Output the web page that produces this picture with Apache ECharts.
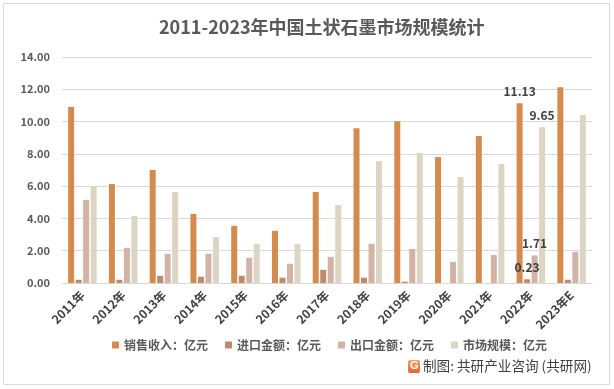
<!DOCTYPE html>
<html><head><meta charset="utf-8">
<script src="https://cdn.jsdelivr.net/npm/echarts@6/dist/echarts.min.js"></script>
<style>html,body{margin:0;padding:0;background:#fff}#c{width:614px;height:389px}</style>
</head><body><div id="c"></div>
<script>
const categories = ['2011年','2012年','2013年','2014年','2015年','2016年','2017年','2018年','2019年','2020年','2021年','2022年','2023年E'];
const seriesNames = ['销售收入：亿元','进口金额：亿元','出口金额：亿元','市场规模：亿元'];
const sales  = [10.90, 6.13, 7.00, 4.28, 3.54, 3.23, 5.64, 9.59, 10.02, 7.80, 9.10, 11.13, 12.13];
const imports = [0.20, 0.20, 0.45, 0.39, 0.45, 0.33, 0.82, 0.33, 0.08, 0.00, 0.00, 0.23, 0.20];
const exports_ = [5.15, 2.18, 1.81, 1.81, 1.56, 1.19, 1.62, 2.43, 2.11, 1.31, 1.74, 1.71, 1.93];
const market = [5.97, 4.16, 5.64, 2.84, 2.43, 2.43, 4.83, 7.55, 8.05, 6.56, 7.37, 9.65, 10.40];
const labeledIndex = 11;
const colors = ['#D68B4E','#BE8C6A','#D3B3A6','#DDD5C3'];
const font = '"Microsoft YaHei","Noto Sans CJK SC","Noto Sans",sans-serif';

function mk(name, vals, color){
  return {
    name, type:'bar', barWidth:6, barGap:'25%',
    itemStyle:{color},
    data: vals.map((v,i)=> i===labeledIndex ? {value:v, label:{show:true, position:'top', distance:6, formatter:p=>p.value.toFixed(2), color:'#404040', fontSize:12, fontWeight:'bold', fontFamily:font}} : v)
  };
}
const chart = echarts.init(document.getElementById('c'), null, {renderer:'canvas'});
chart.setOption({
  animation:false,
  textStyle:{fontFamily:font},
  title:{text:'2011-2023年中国土状石墨市场规模统计', left:154, top:13,
    textStyle:{fontSize:18, fontWeight:'bold', color:'#595959', fontFamily:font}},
  grid:{left:62, right:22, top:57, bottom:106, containLabel:false},
  legend:{top:334, left:107, itemWidth:7, itemHeight:7, itemGap:17, icon:'rect',
    textStyle:{fontSize:12, fontWeight:'bold', color:'#595959', fontFamily:font}, data:seriesNames},
  xAxis:{type:'category', data:categories,
    axisLine:{lineStyle:{color:'#D9D9D9'}}, axisTick:{show:false},
    axisLabel:{rotate:45, fontSize:12, fontWeight:'bold', color:'#404040', margin:10, interval:0}},
  yAxis:{type:'value', min:0, max:14, interval:2,
    axisLabel:{formatter:v=>v.toFixed(2), fontSize:11, fontWeight:'bold', color:'#595959', margin:12},
    splitLine:{lineStyle:{color:'#D9D9D9'}}, axisLine:{show:false}, axisTick:{show:false}},
  series:[mk(seriesNames[0],sales,colors[0]), mk(seriesNames[1],imports,colors[1]), mk(seriesNames[2],exports_,colors[2]), mk(seriesNames[3],market,colors[3])],
  graphic:[
    {type:'rect', shape:{x:3.5,y:3.5,width:606,height:381}, style:{fill:null, stroke:'#D9D9D9', lineWidth:1}, silent:true},
    {type:'rect', shape:{x:408,y:360,width:12,height:13,r:2}, style:{fill:new echarts.graphic.LinearGradient(0,0,0,1,[{offset:0,color:'#F5A25D'},{offset:1,color:'#E8603C'}])}},
    {type:'text', left:410, top:360, style:{text:'G', fill:'#fff', font:'bold 11px sans-serif'}},
    {type:'text', left:423, top:359, style:{text:'制图: 共研产业咨询 (共研网)', fill:'#404040', font:'13.6px '+font}}
  ]
});
</script></body></html>
